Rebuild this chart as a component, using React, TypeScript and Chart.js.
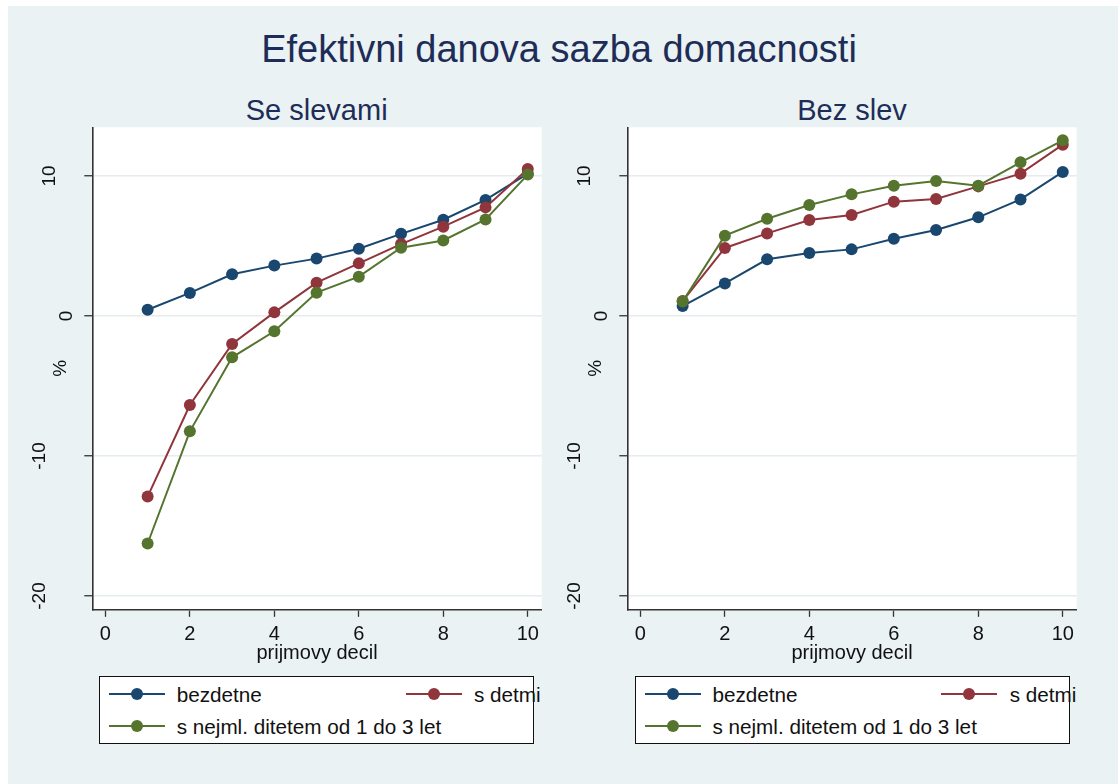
import React, { useEffect, useRef } from "react";
import { Chart, registerables } from "chart.js";

Chart.register(...registerables);

// ---------------- data ----------------
const deciles = [1, 2, 3, 4, 5, 6, 7, 8, 9, 10];
const seriesNames = ["bezdetne", "s detmi", "s nejml. ditetem od 1 do 3 let"];
const seriesColors = ["#1a476f", "#90353b", "#55752f"];

const seSlevamiBezdetne = [0.45, 1.65, 2.98, 3.6, 4.1, 4.8, 5.87, 6.88, 8.29, 10.17];
const seSlevamiSDetmi = [-12.9, -6.36, -2.0, 0.26, 2.38, 3.76, 5.14, 6.38, 7.76, 10.5];
const seSlevamiNejml = [-16.25, -8.24, -2.95, -1.09, 1.67, 2.81, 4.88, 5.4, 6.9, 10.1];

const bezSlevBezdetne = [0.71, 2.33, 4.05, 4.5, 4.76, 5.52, 6.14, 7.05, 8.33, 10.29];
const bezSlevSDetmi = [1.07, 4.86, 5.9, 6.86, 7.21, 8.17, 8.36, 9.26, 10.17, 12.24];
const bezSlevNejml = [1.03, 5.74, 6.95, 7.93, 8.69, 9.31, 9.64, 9.31, 10.98, 12.55];

const xTicks = [0, 2, 4, 6, 8, 10];
const yTicks = [-20, -10, 0, 10];

const mainTitle = "Efektivni danova sazba domacnosti";
const panelTitles = ["Se slevami", "Bez slev"];
const xTitle = "prijmovy decil";
const yTitle = "%";

// ---------------- style ----------------
const FONT = "'Liberation Sans', Arial, Helvetica, sans-serif";
const BG = "#eaf2f3";
const TITLE_COLOR = "#1e2d58";
const TEXT_COLOR = "#111111";

const CANVAS_W = 535;
const CANVAS_H = 550;
const CANVAS_TOP = 120;

const plotBgPlugin = {
  id: "plotBg",
  beforeDraw(chart: any) {
    const { ctx, chartArea } = chart;
    ctx.save();
    ctx.fillStyle = "#ffffff";
    ctx.fillRect(chartArea.left, chartArea.top, chartArea.right - chartArea.left, chartArea.bottom - chartArea.top);
    ctx.restore();
  },
};

const yLabelPlugin = {
  id: "yLabels",
  afterDraw(chart: any) {
    const s = chart.scales.y;
    const ctx = chart.ctx;
    const axisX = chart.chartArea.left;
    ctx.save();
    ctx.font = `19px ${FONT}`;
    ctx.fillStyle = TEXT_COLOR;
    ctx.textAlign = "center";
    ctx.textBaseline = "middle";
    const w0 = ctx.measureText("0").width;
    for (const v of yTicks) {
      const label = String(v);
      const w = ctx.measureText(label).width;
      const cx = axisX - 25.5 - 1.6 * (w - w0);
      const py = s.getPixelForValue(v);
      ctx.save();
      ctx.translate(cx, py);
      ctx.rotate(-Math.PI / 2);
      ctx.fillText(label, 0, 0);
      ctx.restore();
    }
    ctx.restore();
  },
};

function Panel({ left, series }: { left: number; series: number[][] }) {
  const ref = useRef<HTMLCanvasElement | null>(null);
  useEffect(() => {
    if (!ref.current) return;
    const chart = new Chart(ref.current, {
      type: "line",
      data: {
        datasets: series.map((vals, i) => ({
          label: seriesNames[i],
          data: deciles.map((d, j) => ({ x: d, y: vals[j] })),
          borderColor: seriesColors[i],
          backgroundColor: seriesColors[i],
          pointBackgroundColor: seriesColors[i],
          pointBorderColor: seriesColors[i],
          pointRadius: 6,
          pointBorderWidth: 0,
          borderWidth: 2,
          tension: 0,
          fill: false,
          order: 3 - i,
        })),
      },
      options: {
        responsive: false,
        maintainAspectRatio: false,
        animation: false,
        devicePixelRatio: 1,
        layout: { padding: { top: 7.3, right: 13.3, left: 0, bottom: 0 } },
        plugins: {
          legend: { display: false },
          tooltip: { enabled: false },
          title: { display: false },
        },
        scales: {
          x: {
            type: "linear",
            min: -0.31,
            max: 10.33,
            afterBuildTicks: (s: any) => {
              s.ticks = xTicks.map((v) => ({ value: v }));
            },
            afterFit: (s: any) => {
              s.height = 60.7;
            },
            grid: {
              drawOnChartArea: false,
              drawTicks: true,
              tickLength: 7.5,
              tickColor: "#333333",
              tickWidth: 1.3,
            },
            border: { display: true, color: "#333333", width: 1.6 },
            ticks: {
              font: { family: FONT, size: 20 },
              color: TEXT_COLOR,
              padding: 6,
              maxRotation: 0,
              minRotation: 0,
              autoSkip: false,
              callback: (v: any) => String(v),
            },
            title: {
              display: true,
              text: xTitle,
              font: { family: FONT, size: 20 },
              color: TEXT_COLOR,
              padding: { top: 0, bottom: 5 },
            },
          },
          y: {
            type: "linear",
            min: -20.95,
            max: 13.48,
            afterBuildTicks: (s: any) => {
              s.ticks = yTicks.map((v) => ({ value: v }));
            },
            afterFit: (s: any) => {
              s.width = 72.3;
            },
            grid: {
              color: "#e4ecee",
              lineWidth: 1.5,
              drawTicks: true,
              tickLength: 8,
              tickColor: "#333333",
              tickWidth: 1.3,
            },
            border: { display: true, color: "#333333", width: 1.6 },
            ticks: { display: false },
            title: {
              display: true,
              text: yTitle,
              font: { family: FONT, size: 19, lineHeight: 1.2 },
              color: TEXT_COLOR,
              padding: { top: 29, bottom: 0 },
            },
          },
        },
      },
      plugins: [plotBgPlugin, yLabelPlugin],
    } as any);
    return () => chart.destroy();
  }, [series]);
  return (
    <canvas
      ref={ref}
      width={CANVAS_W}
      height={CANVAS_H}
      style={{ position: "absolute", left, top: CANVAS_TOP, width: CANVAS_W, height: CANVAS_H }}
    />
  );
}

function LegendBox({ left }: { left: number }) {
  const rows = [
    { idx: 0, lineX: 9.7, textX: 77.4, rowY: 694 },
    { idx: 1, lineX: 306.4, textX: 374.7, rowY: 694 },
    { idx: 2, lineX: 9.7, textX: 77.4, rowY: 726 },
  ];
  const boxTop = 675.7;
  return (
    <div
      style={{
        position: "absolute",
        left,
        top: boxTop,
        width: 434.7,
        height: 68.3,
        boxSizing: "border-box",
        border: "1.3px solid #111",
        background: "#fff",
        overflow: "visible",
      }}
    >
      {rows.map((r) => (
        <React.Fragment key={r.idx}>
          <svg
            width={56}
            height={14}
            style={{ position: "absolute", left: r.lineX - 1, top: r.rowY - boxTop - 7 - 1 }}
          >
            <line x1={0} y1={7} x2={56} y2={7} stroke={seriesColors[r.idx]} strokeWidth={2} />
            <circle cx={28} cy={7} r={6} fill={seriesColors[r.idx]} />
          </svg>
          <span
            style={{
              position: "absolute",
              left: r.textX - 1,
              top: r.rowY + 8.7 - 17.5 - boxTop - 1,
              font: `20.7px/20.7px ${FONT}`,
              color: TEXT_COLOR,
              whiteSpace: "nowrap",
            }}
          >
            {seriesNames[r.idx]}
          </span>
        </React.Fragment>
      ))}
    </div>
  );
}

export default function App() {
  useEffect(() => {
    document.body.style.margin = "0";
  }, []);
  return (
    <div style={{ position: "fixed", left: 0, top: 0, width: 1118, height: 784, background: "#ffffff", overflow: "hidden" }}>
      <div style={{ position: "absolute", left: 8, top: 6, right: 0, bottom: 0, background: BG }} />
      <div
        style={{
          position: "absolute",
          left: 0,
          width: 1118,
          top: 30,
          font: `38px/38px ${FONT}`,
          color: TITLE_COLOR,
          whiteSpace: "nowrap",
        }}
      >
        <span style={{ position: "absolute", left: 559, transform: "translateX(-50%)" }}>{mainTitle}</span>
      </div>
      <div style={{ position: "absolute", left: 316.7, top: 95.5, transform: "translateX(-50%)", font: `29px/29px ${FONT}`, color: TITLE_COLOR, whiteSpace: "nowrap" }}>
        {panelTitles[0]}
      </div>
      <div style={{ position: "absolute", left: 852, top: 95.5, transform: "translateX(-50%)", font: `29px/29px ${FONT}`, color: TITLE_COLOR, whiteSpace: "nowrap" }}>
        {panelTitles[1]}
      </div>
      <Panel left={20} series={[seSlevamiBezdetne, seSlevamiSDetmi, seSlevamiNejml]} />
      <Panel left={555} series={[bezSlevBezdetne, bezSlevSDetmi, bezSlevNejml]} />
      <LegendBox left={99.3} />
      <LegendBox left={635} />
    </div>
  );
}
